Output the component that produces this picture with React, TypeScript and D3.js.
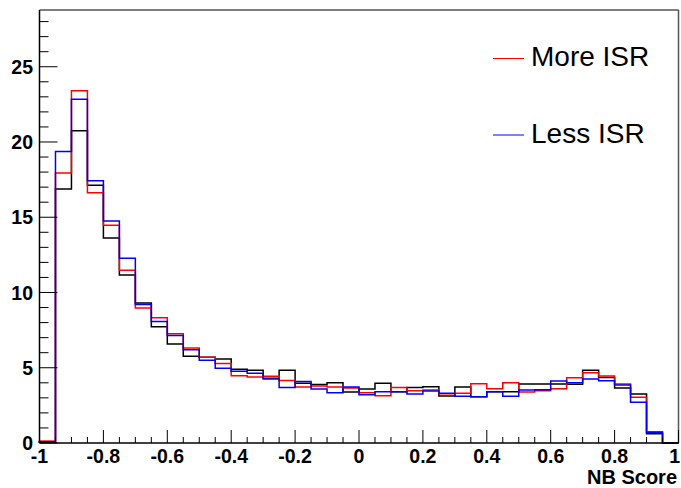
import React from 'react';
import * as d3 from 'd3';

// NB score histograms: 40 bins of 0.05 from -1 to 1.
const binEdges = d3.range(-1, 1.0001, 0.05).map((v) => +v.toFixed(2));

const moreISR = [
  0.12, 17.94, 23.41, 16.63, 14.46, 11.47, 8.97, 8.33, 7.26, 6.31,
  5.69, 5.29, 4.47, 4.39, 4.43, 4.16, 3.72, 3.79, 3.72, 3.65,
  3.34, 3.14, 3.68, 3.48, 3.52, 3.28, 3.30, 3.94, 3.61, 4.01,
  3.39, 3.48, 3.61, 4.33, 4.67, 4.45, 3.92, 3.04, 0.75, 0,
];
const lessISR = [
  0.08, 19.36, 22.84, 17.43, 14.75, 12.27, 9.2, 8.08, 7.15, 6.20,
  5.49, 4.96, 4.76, 4.63, 4.25, 3.68, 4.08, 3.59, 3.34, 3.72,
  3.21, 3.41, 3.41, 3.26, 3.46, 3.30, 3.10, 3.08, 3.41, 3.10,
  3.52, 3.54, 4.12, 4.01, 4.25, 4.14, 3.85, 2.70, 0.69, 0,
];
const nominal = [
  0.1, 16.88, 20.75, 17.12, 13.62, 11.16, 9.30, 7.73, 6.58, 5.76,
  5.70, 5.58, 4.90, 4.83, 4.30, 4.83, 3.97, 3.88, 4.01, 3.39,
  3.59, 3.97, 3.41, 3.68, 3.74, 3.12, 3.72, 3.08, 3.41, 3.41,
  3.92, 3.92, 3.92, 3.90, 4.83, 4.36, 3.65, 3.26, 0.62, 0,
];

const xTickLabels = [-1, -0.8, -0.6, -0.4, -0.2, 0, 0.2, 0.4, 0.6, 0.8, 1];
const yTickLabels = [0, 5, 10, 15, 20, 25];
const yMax = 28.77;

const W = 681;
const H = 488;
const FONT = '"Liberation Sans", Arial, Helvetica, sans-serif';

export default function App() {
  document.body.style.margin = '0';

  const x = d3.scaleLinear().domain([-1, 1]).range([39.5, 678.5]);
  const y = d3.scaleLinear().domain([0, yMax]).range([443, 10]);

  // ROOT-style step outline: rise from the baseline, walk every bin, drop back.
  const stepPath = (vals: number[]) => {
    const pts: [number, number][] = [[x(binEdges[0]), y(0)]];
    vals.forEach((v, i) => {
      pts.push([x(binEdges[i]), y(v)]);
      pts.push([x(binEdges[i + 1]), y(v)]);
    });
    pts.push([x(binEdges[binEdges.length - 1]), y(0)]);
    return d3.line()(pts) ?? '';
  };

  const series = [
    { vals: nominal, color: '#000000' },
    { vals: moreISR, color: '#ff0000' },
    { vals: lessISR, color: '#0000ff' },
  ];

  const xMinor = d3.range(-1, 1.0001, 0.05).map((v) => +v.toFixed(2));
  const yMinor = d3.range(0, 29, 1);

  return (
    <svg width={W} height={H} style={{ position: 'absolute', left: 0, top: 0, background: 'white' }}>
      {/* frame */}
      <line x1={x(-1)} x2={x(1)} y1={y(yMax)} y2={y(yMax)} stroke="#555" strokeWidth={1.5} />
      <line x1={x(1)} x2={x(1)} y1={y(yMax)} y2={y(0)} stroke="#555" strokeWidth={1.5} />

      {/* histograms */}
      {series.map((s) => (
        <path key={s.color} d={stepPath(s.vals)} fill="none" stroke={s.color} strokeWidth={1.5} />
      ))}

      {/* y axis */}
      <line x1={x(-1)} x2={x(-1)} y1={y(yMax)} y2={y(0)} stroke="black" strokeWidth={1.5} />
      {yMinor.map((t) => (
        <line key={t} x1={x(-1)} x2={x(-1) + (t % 5 === 0 ? 18 : 9)} y1={y(t)} y2={y(t)}
          stroke="black" strokeWidth={1} />
      ))}
      {yTickLabels.map((t) => (
        <text key={t} x={33} y={y(t)} dy="0.36em" textAnchor="end" fontFamily={FONT}
          fontWeight="bold" fontSize={19.5}>{t}</text>
      ))}

      {/* x axis */}
      <line x1={x(-1)} x2={x(1)} y1={y(0)} y2={y(0)} stroke="black" strokeWidth={1.5} />
      {xMinor.map((t, i) => (
        <line key={i} x1={x(t)} x2={x(t)} y1={y(0)} y2={y(0) - (i % 4 === 0 ? 13 : 6)}
          stroke="black" strokeWidth={1} />
      ))}
      {xTickLabels.map((t) => {
        const last = t === 1;
        return (
          <text key={t} x={last ? W - 1 : x(t)} y={463} textAnchor={last ? 'end' : 'middle'}
            fontFamily={FONT} fontWeight="bold" fontSize={19.5}>{t}</text>
        );
      })}
      <text x={677} y={484} textAnchor="end" fontFamily={FONT} fontWeight="bold" fontSize={20}>
        NB Score
      </text>

      {/* legend */}
      <line x1={493} x2={524} y1={58.5} y2={58.5} stroke="#ff0000" strokeWidth={1} />
      <text x={531} y={66} fontFamily={FONT} fontSize={28}>More ISR</text>
      <line x1={493} x2={524} y1={135} y2={135} stroke="#0000ff" strokeWidth={1} />
      <text x={531} y={143} fontFamily={FONT} fontSize={28}>Less ISR</text>
    </svg>
  );
}
